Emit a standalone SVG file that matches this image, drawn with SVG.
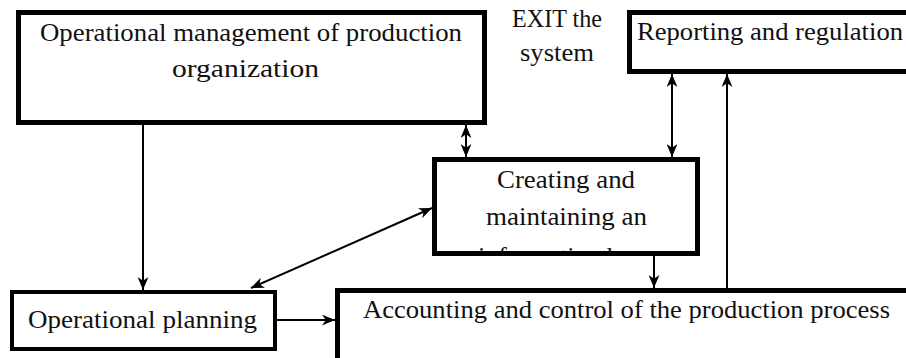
<svg xmlns="http://www.w3.org/2000/svg" width="906" height="358" viewBox="0 0 906 358">
  <style>
    .box { fill: #ffffff; stroke: #000000; stroke-width: 5; }
    .frame { fill: none; stroke: #000000; stroke-width: 5; }
    .thin { stroke-width: 4; }
    .lbl { font-family: "Liberation Serif", "Times New Roman", serif; font-size: 25px; fill: #111111; }
    .conn { stroke: #000000; stroke-width: 2; fill: none; }
  </style>
  <defs>
    <marker id="ah" viewBox="0 0 12 10" refX="12" refY="5" markerWidth="13" markerHeight="11" markerUnits="userSpaceOnUse" orient="auto-start-reverse">
      <path d="M0,0 L12,5 L0,10 L3.5,5 z" fill="#000000"/>
    </marker>
    <clipPath id="clipCreate">
      <rect x="437" y="162" width="260" height="89.5"/>
    </clipPath>
  </defs>
  <rect width="906" height="358" fill="#ffffff"/>

  <g id="node-management">
    <rect class="box" x="18.5" y="12.5" width="466" height="110"/>
    <text class="lbl" x="40" y="41" textLength="422" lengthAdjust="spacingAndGlyphs">Operational management of production</text>
    <text class="lbl" x="172" y="77" textLength="147" lengthAdjust="spacingAndGlyphs">organization</text>
  </g>

  <g id="label-exit">
    <text class="lbl" x="512" y="27" textLength="90" lengthAdjust="spacingAndGlyphs">EXIT the</text>
    <text class="lbl" x="520" y="61" textLength="74" lengthAdjust="spacingAndGlyphs">system</text>
  </g>

  <g id="node-reporting">
    <rect class="box" x="629.5" y="12.5" width="300" height="59"/>
    <text class="lbl" x="637" y="40" textLength="266" lengthAdjust="spacingAndGlyphs">Reporting and regulation</text>
  </g>

  <g id="node-creating">
    <rect x="434.5" y="159.5" width="263" height="94" fill="#ffffff"/>
    <g clip-path="url(#clipCreate)">
      <text class="lbl" x="497" y="188" textLength="138" lengthAdjust="spacingAndGlyphs">Creating and</text>
      <text class="lbl" x="486" y="225" textLength="161" lengthAdjust="spacingAndGlyphs">maintaining an</text>
      <text class="lbl" x="478" y="265" textLength="175" lengthAdjust="spacingAndGlyphs">information base</text>
    </g>
    <rect class="frame" x="434.5" y="159.5" width="263" height="94"/>
  </g>

  <g id="node-planning">
    <rect class="box thin" x="12" y="292" width="263" height="57"/>
    <text class="lbl" x="28" y="328" textLength="229" lengthAdjust="spacingAndGlyphs">Operational planning</text>
  </g>

  <g id="node-accounting">
    <rect class="box" x="337.5" y="290.5" width="600" height="70"/>
    <text class="lbl" x="363" y="318" textLength="527" lengthAdjust="spacingAndGlyphs">Accounting and control of the production process</text>
  </g>

  <g id="connectors">
    <line class="conn" x1="143" y1="125" x2="143" y2="290" marker-end="url(#ah)"/>
    <line class="conn" x1="466" y1="125" x2="466" y2="157" marker-start="url(#ah)" marker-end="url(#ah)"/>
    <line class="conn" x1="672" y1="74" x2="672" y2="157" marker-start="url(#ah)" marker-end="url(#ah)"/>
    <line class="conn" x1="727" y1="288" x2="727" y2="74" marker-end="url(#ah)"/>
    <line class="conn" x1="654" y1="256" x2="654" y2="288" marker-end="url(#ah)"/>
    <line class="conn" x1="251" y1="288" x2="432" y2="208" marker-start="url(#ah)" marker-end="url(#ah)"/>
    <line class="conn" x1="277" y1="320" x2="335" y2="320" marker-end="url(#ah)"/>
  </g>
</svg>
